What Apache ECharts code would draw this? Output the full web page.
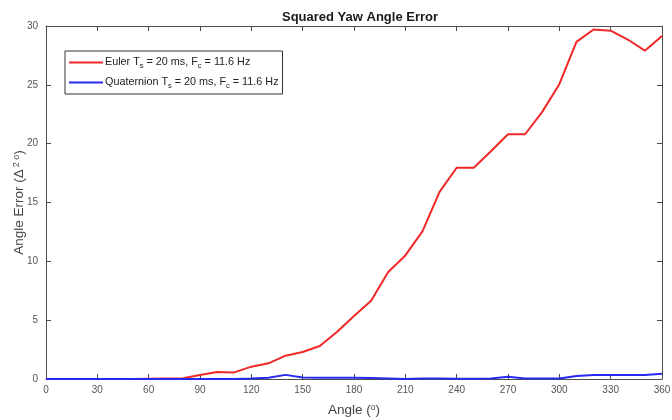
<!DOCTYPE html>
<html>
<head>
<meta charset="utf-8">
<script src="https://cdn.jsdelivr.net/npm/echarts@6/dist/echarts.min.js"></script>
<style>
  html, body { margin: 0; padding: 0; background: #fff; }
  #chart { width: 672px; height: 420px; }
</style>
</head>
<body>
<div id="chart"></div>
<script>
// Yaw angle sweep, 0..360 degrees in 10 degree steps
const angles = [0, 10, 20, 30, 40, 50, 60, 70, 80, 90, 100, 110, 120, 130, 140, 150, 160, 170, 180,
  190, 200, 210, 220, 230, 240, 250, 260, 270, 280, 290, 300, 310, 320, 330, 340, 350, 360];

// Squared yaw error, Euler-angle filter
const eulerError = [0, 0, 0, 0, 0, 0, 0.02, 0.04, 0.06, 0.34, 0.6, 0.56, 1.05, 1.33, 1.98, 2.3, 2.8,
  4.0, 5.35, 6.65, 9.1, 10.5, 12.55, 15.9, 17.95, 17.95, 19.35, 20.8, 20.8, 22.7, 25.05, 28.65, 29.7,
  29.6, 28.85, 27.9, 29.15];

// Squared yaw error, quaternion filter
const quatError = [0, 0, 0, 0, 0, 0, 0, 0, 0, 0, 0, 0, 0.04, 0.1, 0.35, 0.12, 0.1, 0.1, 0.1, 0.08,
  0.05, 0.0, 0.04, 0.04, 0.02, 0.02, 0.05, 0.2, 0.04, 0.04, 0.04, 0.25, 0.35, 0.35, 0.33, 0.35, 0.45];

const xTicks = { min: 0, max: 360, interval: 30 };
const yTicks = { min: 0, max: 30, interval: 5 };

const seriesNames = ['Euler', 'Quaternion'];

const toPairs = vals => angles.map((a, i) => [a, vals[i]]);

const axisColor = '#4d4d4d';
const font = 'Liberation Sans, Arial, sans-serif';

const chart = echarts.init(document.getElementById('chart'));

// Boxed axes: ticks point inward, lines stay on the plot edges
const boxAxis = (extra) => Object.assign({
  type: 'value',
  nameMoveOverlap: false,
  axisLine: { show: true, onZero: false, lineStyle: { color: axisColor, width: 1 } },
  axisTick: { show: true, inside: true, length: 5, lineStyle: { color: axisColor } },
  splitLine: { show: false },
}, extra);

chart.setOption({
  animation: false,
  backgroundColor: '#fff',
  title: {
    text: 'Squared Yaw Angle Error',
    left: 355, top: 6, textAlign: 'center',
    textStyle: { fontFamily: font, fontSize: 13, fontWeight: 'bold', color: '#1a1a1a' }
  },
  grid: { left: 46, right: 10, top: 26, bottom: 41, outerBoundsMode: 'none' },
  legend: {
    orient: 'vertical',
    left: 65, top: 51,
    padding: [4, 4, 4, 4],
    itemGap: 5,
    itemWidth: 34, itemHeight: 2,
    icon: 'rect',
    backgroundColor: '#fff',
    borderColor: '#333', borderWidth: 1,
    data: seriesNames,
    formatter: name => name === 'Euler'
      ? 'Euler T{sub|s} = 20 ms, F{sub|c} = 11.6 Hz'
      : 'Quaternion T{sub|s} = 20 ms, F{sub|c} = 11.6 Hz',
    textStyle: {
      fontFamily: font, fontSize: 10.8, color: '#222', lineHeight: 15, padding: [0, 0, 0, -3],
      rich: { sub: { fontFamily: font, fontSize: 7.5, color: '#222', verticalAlign: 'bottom', lineHeight: 8, padding: [6, 0, 0, 0] } }
    }
  },
  xAxis: [
    boxAxis(Object.assign({
      position: 'bottom',
      name: 'Angle ({sup|o})',
      nameLocation: 'middle', nameGap: 24,
      nameTextStyle: {
        fontFamily: font, fontSize: 13.5, color: '#444',
        rich: { sup: { fontFamily: font, fontSize: 8.5, color: '#444', verticalAlign: 'top', padding: [0, 0, 6, 0] } }
      },
      axisLabel: { fontFamily: font, fontSize: 10, color: '#555', margin: 6 }
    }, xTicks)),
    boxAxis(Object.assign({ position: 'top', axisLabel: { show: false } }, xTicks))
  ],
  yAxis: [
    boxAxis(Object.assign({
      position: 'left',
      name: 'Angle Error (Δ{sup|2 o})',
      nameLocation: 'middle', nameGap: 19, nameRotate: 90,
      nameTextStyle: {
        fontFamily: font, fontSize: 13.5, color: '#444',
        rich: { sup: { fontFamily: font, fontSize: 9, color: '#444', verticalAlign: 'top', padding: [0, 0, 6, 2] } }
      },
      axisLabel: { fontFamily: font, fontSize: 10, color: '#555', margin: 8 }
    }, yTicks)),
    boxAxis(Object.assign({ position: 'right', axisLabel: { show: false } }, yTicks))
  ],
  series: [
    {
      name: seriesNames[0], type: 'line', symbol: 'none',
      data: toPairs(eulerError),
      lineStyle: { color: '#f02828', width: 2 }, itemStyle: { color: '#f02828' }, z: 3
    },
    {
      name: seriesNames[1], type: 'line', symbol: 'none',
      data: toPairs(quatError),
      lineStyle: { color: '#2828f0', width: 2 }, itemStyle: { color: '#2828f0' }, z: 4
    }
  ]
});
</script>
</body>
</html>
